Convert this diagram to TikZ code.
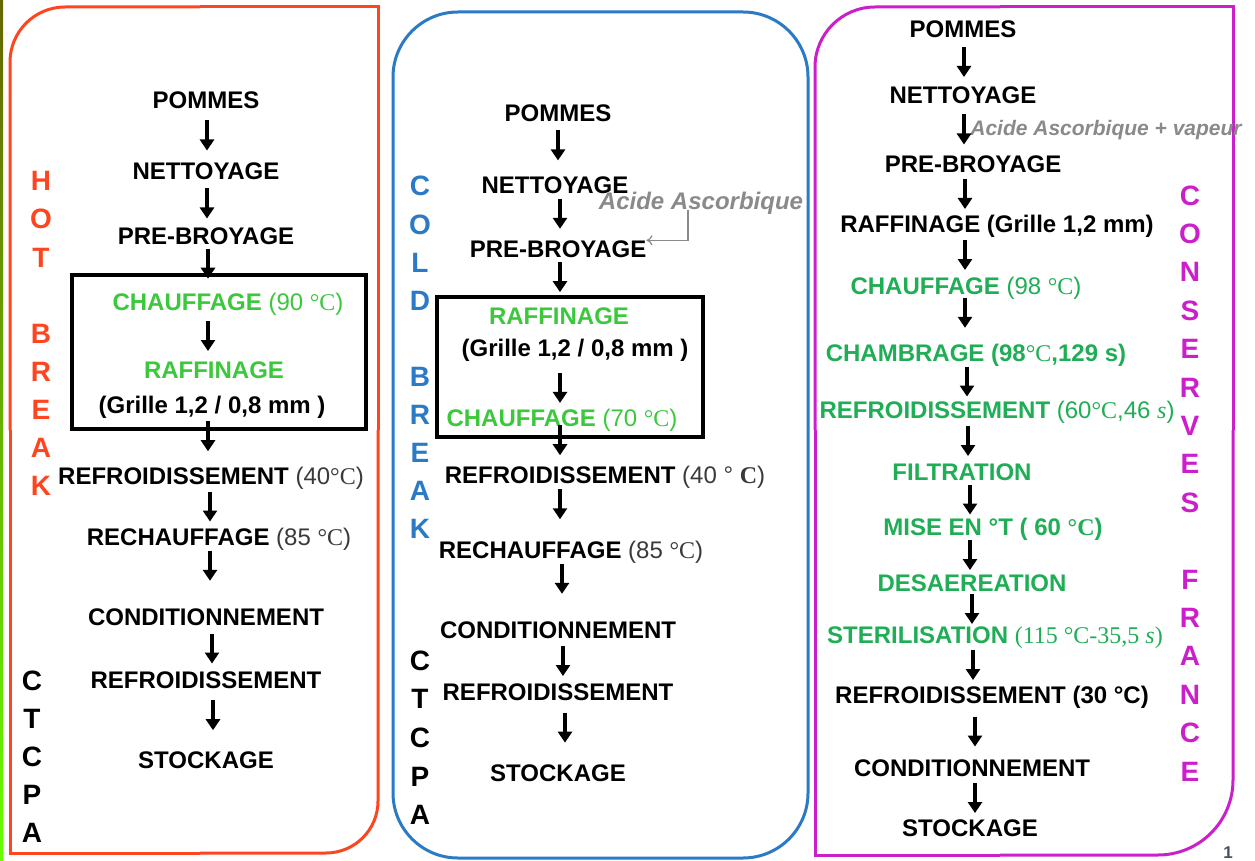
\documentclass[tikz,border=0pt]{standalone}
\usepackage{fontspec}
\setmainfont{Liberation Sans}
\newfontfamily\tnr{Liberation Serif}
\usetikzlibrary{arrows.meta,calc}
\definecolor{hotred}{HTML}{FF4520}
\definecolor{coldblue}{HTML}{2A7AC6}
\definecolor{mag}{HTML}{CC1FCC}
\definecolor{lgreen}{HTML}{3CC83C}
\definecolor{egreen}{HTML}{1FAE56}
\definecolor{acidgray}{HTML}{8A8A8A}
\definecolor{tgray}{HTML}{3A3A3A}
\definecolor{numgray}{HTML}{4A5060}
\newcommand\dC{{\tnr °C}}
\newcommand\flow[4][.5]{%
  \coordinate (fm) at ($(#3)!#1!(#4)$);
  \coordinate (fx) at (#2,0 |- fm);
  \draw[flowarr] ([yshift=15pt]fx) -- ([yshift=-15pt]fx);}
\tikzset{
  st/.style={font=\bfseries\fontsize{24}{28}\selectfont, text height=17pt, text depth=0pt, inner sep=0pt, anchor=center},
  gr/.style={st, text=lgreen},
  eg/.style={st, text=egreen},
  vlet/.style={font=\bfseries\fontsize{28}{30}\selectfont, inner sep=0pt, text height=20pt, text depth=0pt},
  flowarr/.style={line width=3.5pt, -{Triangle[width=14pt,length=11pt]}},
  frame/.style={line width=3pt},
  grpbox/.style={line width=3.5pt, draw=black},
  acid/.style={font=\bfseries\itshape\fontsize{24}{26}\selectfont, text=acidgray, inner sep=0pt, text height=17pt, text depth=0pt},
  garr/.style={draw=acidgray, line width=1.2pt, -{To[length=6pt,width=10pt]}}
}
\begin{document}
\begin{tikzpicture}[x=1pt,y=-1pt]
\useasboundingbox (0,0) rectangle (1255,861);
\fill[white] (0,0) rectangle (1255,861);
\shade[top color=olive!80!black, bottom color=green!60!yellow] (0,0) rectangle (3,861);

% ---------- frames ----------
\draw[frame,hotred,rounded corners=55pt] (10,430) -- (10,7) -- (200,7);
\draw[frame,hotred] (200,7) -- (378,7) -- (378,430);
\draw[frame,hotred,rounded corners=52pt] (378,430) -- (378,853) -- (200,853);
\draw[frame,hotred] (200,853) -- (10,853) -- (10,430);

\draw[frame,coldblue,rounded corners=65pt] (393,12) rectangle (808,858);

\draw[frame,mag,rounded corners=60pt] (815,430) -- (815,7) -- (1000,7);
\draw[frame,mag] (1000,7) -- (1233,7) -- (1233,430);
\draw[frame,mag,rounded corners=75pt] (1233,430) -- (1233,855) -- (1000,855);
\draw[frame,mag] (1000,855) -- (815,855) -- (815,430);

% group boxes
\draw[grpbox] (72,275) rectangle (366,429);
\draw[grpbox] (437,297) rectangle (703,437);

% ---------- vertical letters ----------
\foreach \c [count=\i from 0] in {H,O,T} \node[vlet,text=hotred] (hot\i) at (41,181+38*\i) {\c};
\foreach \c [count=\i from 0] in {B,R,E,A,K} \node[vlet,text=hotred] (hbk\i) at (41,333+38*\i) {\c};
\foreach \c [count=\i from 0] in {C,T,C,P,A} \node[vlet] (lct\i) at (32,680+38.2*\i) {\c};

\foreach \c [count=\i from 0] in {C,O,L,D} \node[vlet,text=coldblue] (cold\i) at (420,186+38*\i) {\c};
\foreach \c [count=\i from 0] in {B,R,E,A,K} \node[vlet,text=coldblue] (cbk\i) at (420,376+38*\i) {\c};
\foreach \c [count=\i from 0] in {C,T,C,P,A} \node[vlet] (mct\i) at (420,660+38.7*\i) {\c};

\foreach \c [count=\i from 0] in {C,O,N,S,E,R,V,E,S} \node[vlet,text=mag] (cons\i) at (1190,195+38.4*\i) {\c};
\foreach \c [count=\i from 0] in {F,R,A,N,C,E} \node[vlet,text=mag] (fra\i) at (1190,579+38.4*\i) {\c};

% ---------- HOT BREAK column ----------
\node[st] (L1) at (206,100) {POMMES};
\node[st] (L2) at (206,171) {NETTOYAGE};
\node[st] (L3) at (206,236) {PRE-BROYAGE};
\node[gr] (L4) at (228,302) {CHAUFFAGE {\mdseries(90 \dC)}};
\node[gr] (L5) at (214,370) {RAFFINAGE};
\node[st] (L6) at (212,405) {(Grille 1,2 / 0,8 mm )};
\node[st] (L7) at (211,476) {REFROIDISSEMENT {\mdseries\color{tgray}(40\dC)}};
\node[st] (L8) at (219,537) {RECHAUFFAGE {\mdseries\color{tgray}(85 \dC)}};
\node[st] (L9) at (206,617) {CONDITIONNEMENT};
\node[st] (L10) at (206,680) {REFROIDISSEMENT};
\node[st] (L11) at (206,760) {STOCKAGE};

\flow{207}{L1}{L2}
\flow{207}{L2}{L3}
\flow[.42]{208}{L3}{L4}
\flow{208}{L4}{L5}
\flow[.44]{208}{L6}{L7}
\flow{210}{L7}{L8}
\flow[.36]{210}{L8}{L9}
\flow{212}{L9}{L10}
\flow[.44]{213}{L10}{L11}

% ---------- COLD BREAK column ----------
\node[st] (M1) at (558,113) {POMMES};
\node[st] (M2) at (555,185) {NETTOYAGE};
\node[st] (M3) at (558,249) {PRE-BROYAGE};
\node[gr] (M4) at (559,316) {RAFFINAGE};
\node[st] (M5) at (575,348) {(Grille 1,2 / 0,8 mm )};
\node[gr] (M6) at (562,418) {CHAUFFAGE {\mdseries(70 \dC)}};
\node[st] (M7) at (605,475) {REFROIDISSEMENT {\mdseries\color{tgray}(40 ° {\tnr\bfseries C})}};
\node[st] (M8) at (571,550) {RECHAUFFAGE {\mdseries\color{tgray}(85 \dC)}};
\node[st] (M9) at (558,630) {CONDITIONNEMENT};
\node[st] (M10) at (558,692) {REFROIDISSEMENT};
\node[st] (M11) at (558,773) {STOCKAGE};

\node[acid] (acidM) at (701,201) {Acide Ascorbique};
\draw[garr] (acidM.south -| 688,0) |- (M3.north east);

\flow[.45]{558}{M1}{M2}
\flow[.45]{560}{M2}{M3}
\flow[.42]{560}{M3}{M4}
\flow[.57]{560}{M5}{M6}
\flow[.39]{560}{M6}{M7}
\flow[.39]{560}{M7}{M8}
\flow[.36]{562}{M8}{M9}
\flow{563}{M9}{M10}
\flow[.44]{565}{M10}{M11}

% ---------- CONSERVES FRANCE column ----------
\node[st] (R1) at (963,29) {POMMES};
\node[st] (R2) at (963,95) {NETTOYAGE};
\node[acid,font=\bfseries\itshape\fontsize{21}{23}\selectfont,text height=15pt] (acidR) at (1106,128) {Acide Ascorbique + vapeur};
\node[st] (R3) at (973,164) {PRE-BROYAGE};
\node[st] (R4) at (997,224) {RAFFINAGE (Grille 1,2 mm)};
\node[eg] (R5) at (966,286) {CHAUFFAGE {\mdseries(98 \dC)}};
\node[eg] (R6) at (976,353) {CHAMBRAGE (98{\mdseries\dC},129 s)};
\node[eg] (R7) at (997,410) {REFROIDISSEMENT {\mdseries(60\dC,46 {\tnr\itshape s})}};
\node[eg] (R8) at (962,472) {FILTRATION};
\node[eg] (R9) at (993,527) {MISE EN °T ( 60 \dC)};
\node[eg] (R10) at (972,583) {DESAEREATION};
\node[eg] (R11) at (995,635) {STERILISATION {\mdseries\tnr(115 °C-35,5 {\itshape s})}};
\node[st] (R12) at (992,695) {REFROIDISSEMENT (30 °C)};
\node[st] (R13) at (972,768) {CONDITIONNEMENT};
\node[st] (R14) at (970,828) {STOCKAGE};

\flow{964}{R1}{R2}
\flow{964}{R2}{R3}
\flow{965}{R3}{R4}
\flow{965}{R4}{R5}
\flow[.40]{965}{R5}{R6}
\flow{967}{R6}{R7}
\flow{968}{R7}{R8}
\flow{970}{R8}{R9}
\flow{970}{R9}{R10}
\flow{972}{R10}{R11}
\flow{973}{R11}{R12}
\flow{975}{R12}{R13}
\flow{975}{R13}{R14}

% slide number
\node[font=\bfseries\fontsize{17}{19}\selectfont, text=numgray, inner sep=0pt, text height=12pt, text depth=0pt] (pgnum) at (1228,852) {1};
\end{tikzpicture}
\end{document}
